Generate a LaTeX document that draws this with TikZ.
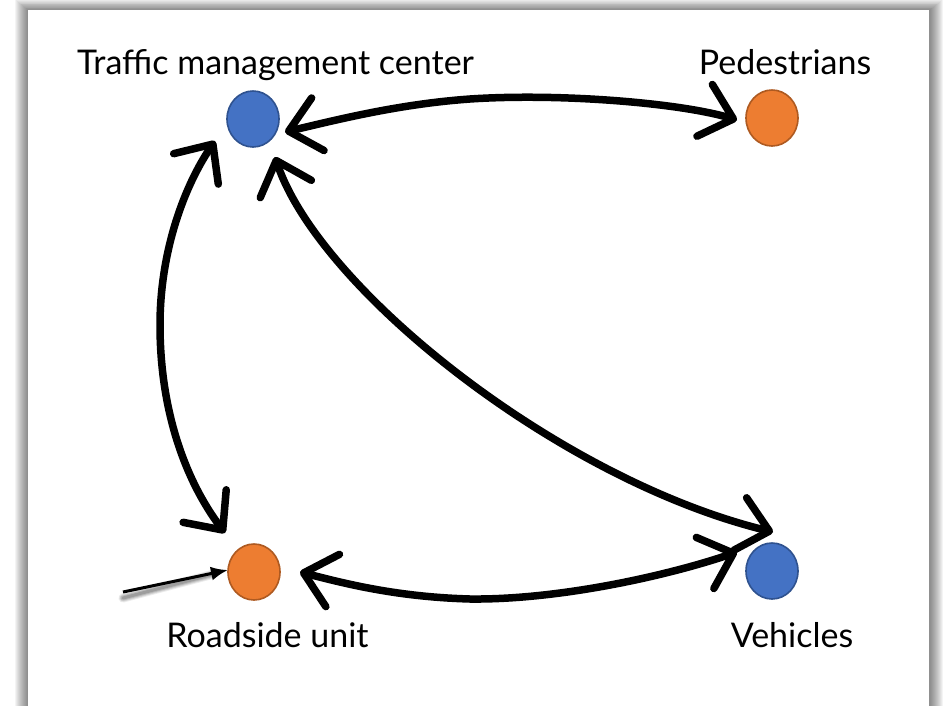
\documentclass[tikz,border=0pt]{standalone}
\usepackage{fontspec}
\setmainfont{Lato}
\usetikzlibrary{arrows.meta,calc,shapes.geometric}
\definecolor{agentblue}{HTML}{4472C4}
\definecolor{agentblueedge}{HTML}{2F528F}
\definecolor{agentorange}{HTML}{ED7D31}
\definecolor{agentorangeedge}{HTML}{AE5A21}
\begin{document}
\begin{tikzpicture}[x=1pt,y=-1pt,
  agent/.style={ellipse,minimum width=52pt,minimum height=56pt,inner sep=0pt,line width=1.6pt},
  blueagent/.style={agent,fill=agentblue,draw=agentblueedge},
  orangeagent/.style={agent,fill=agentorange,draw=agentorangeedge},
  nametext/.style={font=\fontsize{34}{40}\selectfont,anchor=base,inner sep=0pt},
  link/.style={line width=7.5pt,line cap=round,line join=round,
    >={Straight Barb[length=30pt,width=54pt,round]},<->},
  pointer/.style={line width=3pt,-{Latex[length=17pt,width=14pt]}}]
\useasboundingbox (0,0) rectangle (943,705);

% slide with soft drop shadow
\foreach \i in {1,...,13}
  \fill[black,opacity=0.045] (28-\i,10-0.8*\i) rectangle (930+\i,720);
\fill[white] (28,10) rectangle (929,720);

% agents
\node[blueagent]   (tmc) at (253,119) {};
\node[orangeagent] (ped) at (772,118) {};
\node[orangeagent] (rsu) at (254,572) {};
\node[blueagent]   (veh) at (772,571) {};

% names
\node[nametext] (tmcname) at (275.5,74) {Traffic management center};
\node[nametext] (pedname) at (785,74) {Pedestrians};
\node[nametext] (rsuname) at (267.5,647) {Roadside unit};
\node[nametext] (vehname) at (792,647) {Vehicles};

% two-way links
\draw[link] ($(tmc)+(32,13)$) .. controls (340,119) and (400,104) .. (470,99)
  .. controls (560,93) and (680,103) .. ($(ped)+(-35,2)$);
\draw[link] ($(tmc)+(-38,22)$) .. controls (185,185) and (160,250) .. (160,325)
  .. controls (160,410) and (185,480) .. ($(rsu)+(-29,-39)$);
\draw[link] ($(tmc)+(22,38)$) .. controls (320,290) and (560,480) .. ($(veh)+(1,-39)$);
\draw[link] ($(rsu)+(46,0)$) .. controls (350,585) and (400,597) .. (470,599)
  .. controls (560,600) and (670,575) .. ($(veh)+(-35,-19)$);

% pointer onto the roadside unit, with a soft shadow below it
\coordinate (pointerstart) at (123,592);
\foreach \d/\o in {9/0.08,7/0.1,5/0.12,3/0.15}
  \draw[line width=\d pt,line cap=round,draw=black,opacity=\o]
    ($(pointerstart)+(0,6)$) -- ($(rsu)+(-40,2)$);
\draw[pointer] (pointerstart) -- ($(rsu)+(-26,-2)$);
\end{tikzpicture}
\end{document}
